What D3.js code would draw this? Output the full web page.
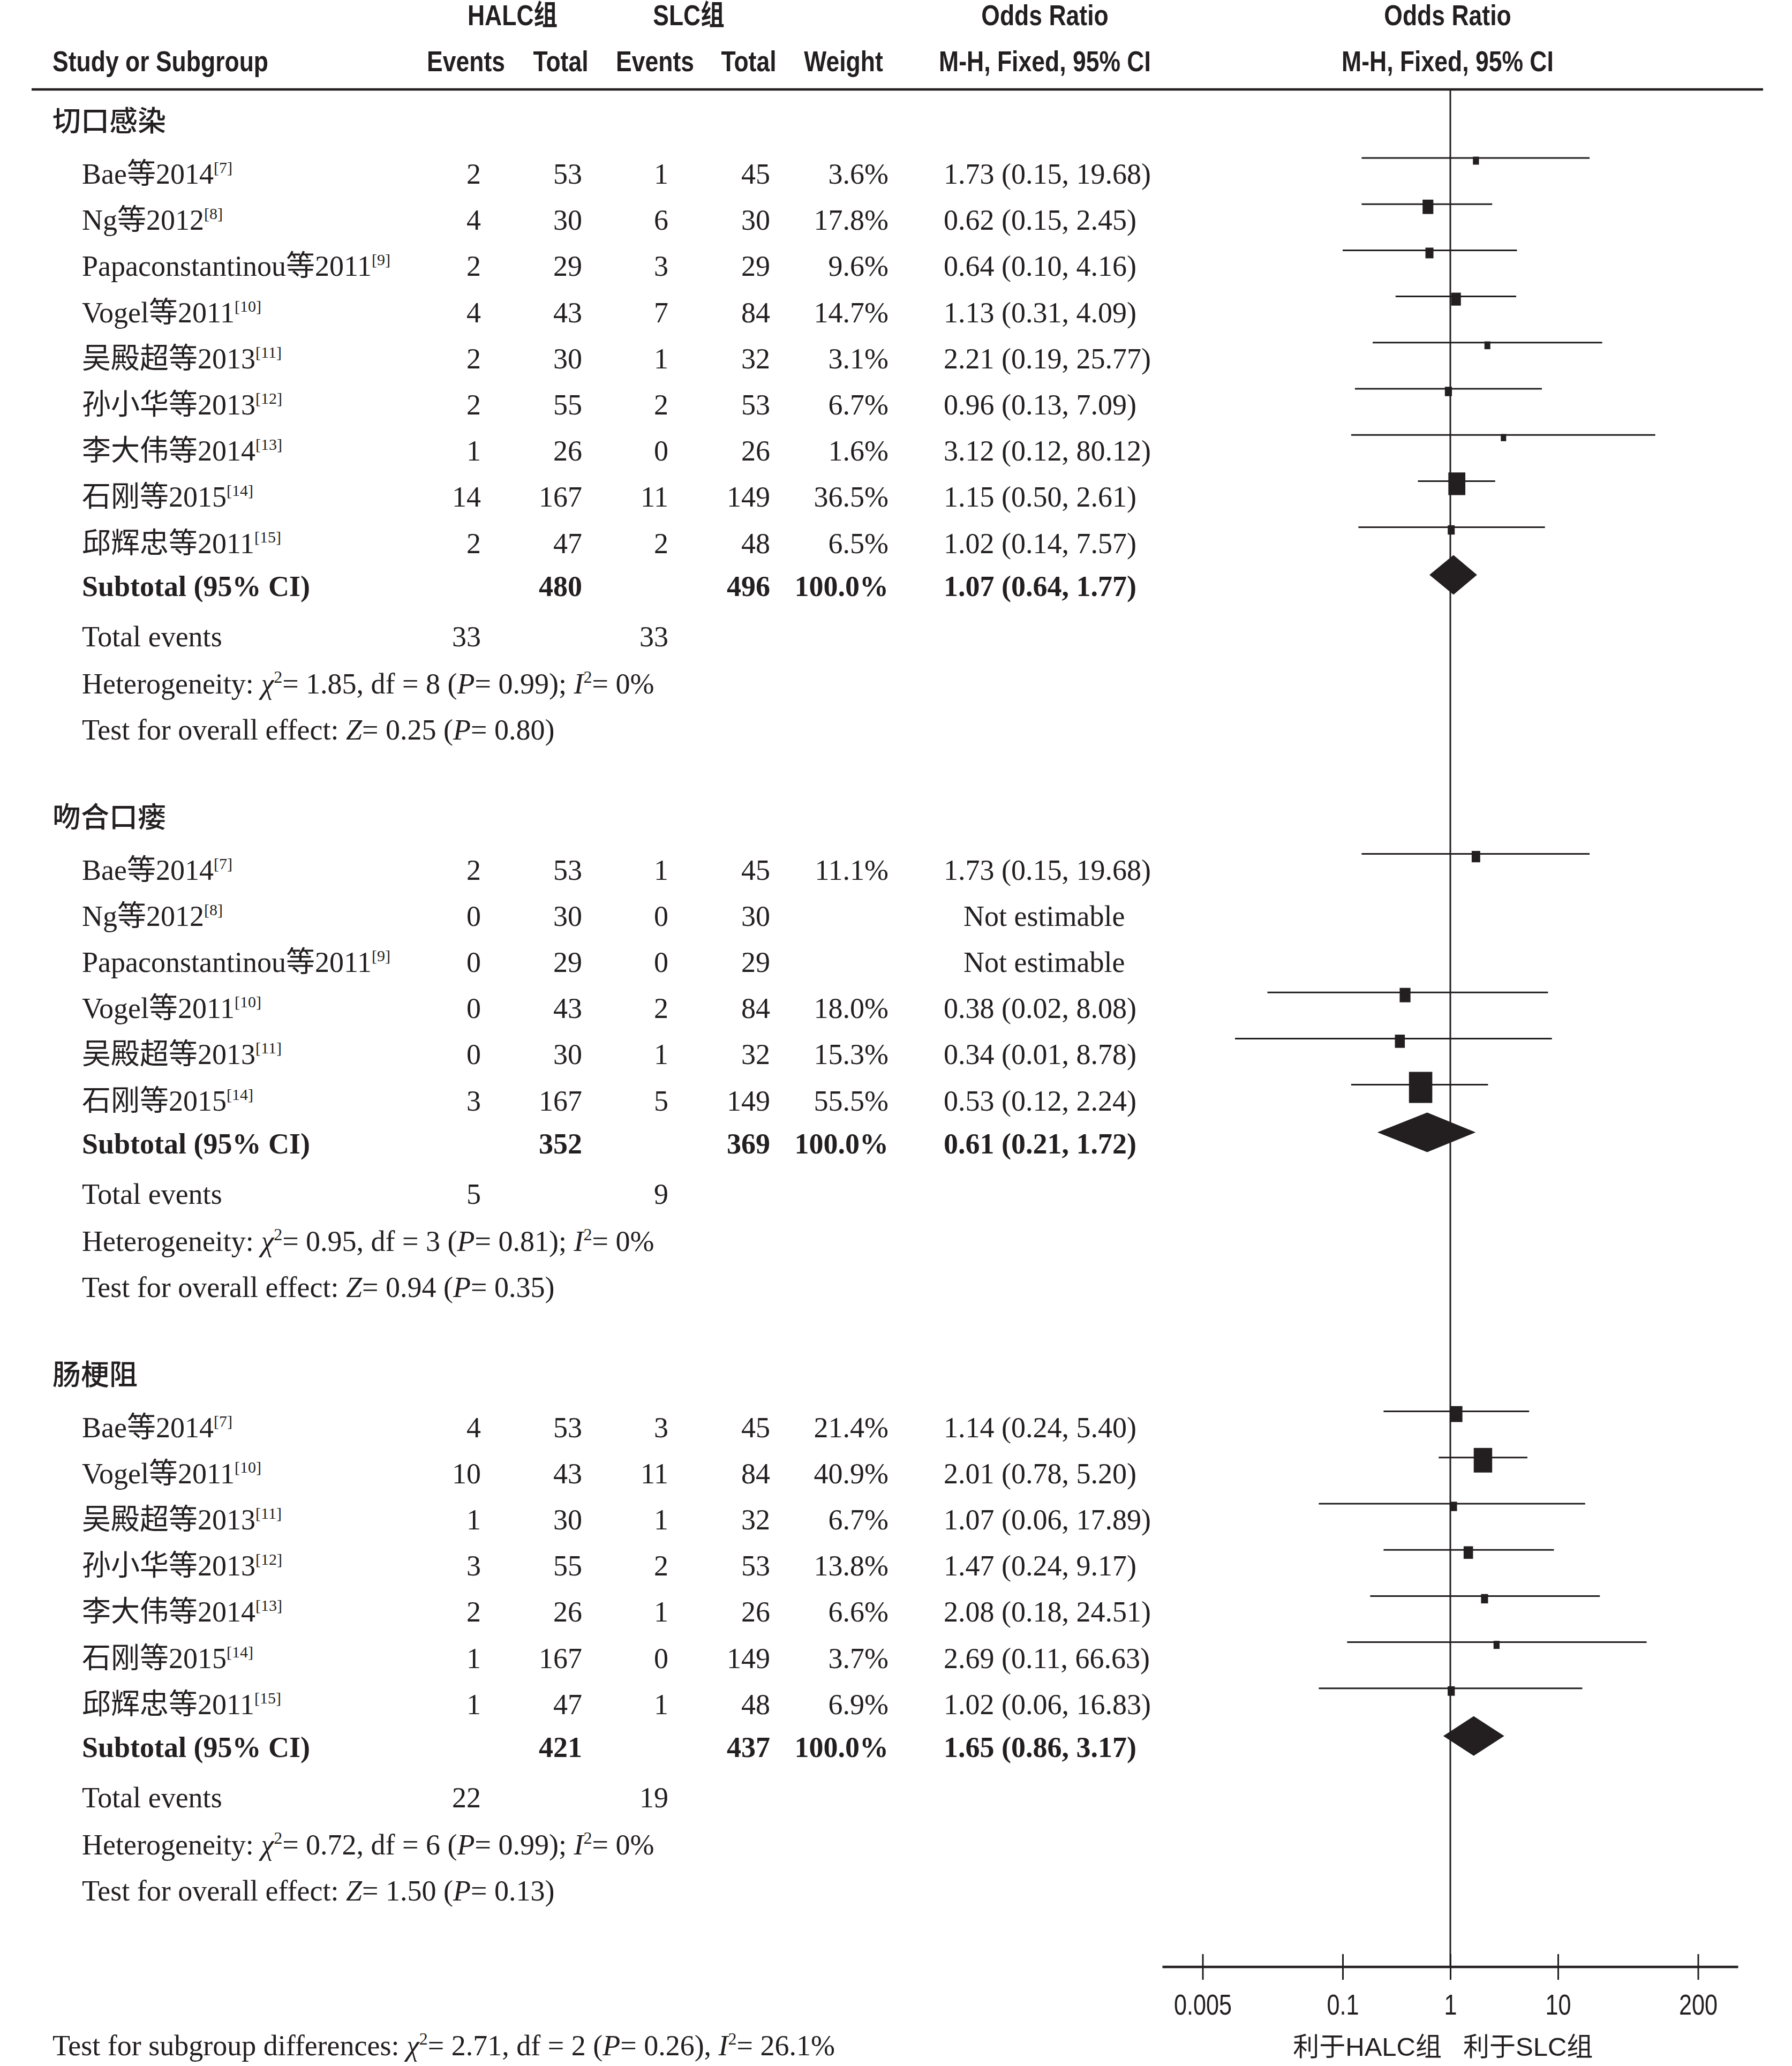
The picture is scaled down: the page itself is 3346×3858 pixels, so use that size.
<!DOCTYPE html>
<html>
<head>
<meta charset="utf-8">
<script src="https://cdn.jsdelivr.net/npm/d3@7"></script>
<style>
  html, body { margin: 0; padding: 0; background: #fff; }
  svg { display: block; }
  text { white-space: pre; }
</style>
</head>
<body>
<div id="chart"></div>
<script>
// ---- data ----
const groupNames = ["切口感染", "吻合口瘘", "肠梗阻"];

const studies1 = ["Bae等2014", "Ng等2012", "Papaconstantinou等2011", "Vogel等2011", "吴殿超等2013", "孙小华等2013", "李大伟等2014", "石刚等2015", "邱辉忠等2011"];
const refs1 = [7, 8, 9, 10, 11, 12, 13, 14, 15];
const halcEvents1 = [2, 4, 2, 4, 2, 2, 1, 14, 2];
const halcTotal1 = [53, 30, 29, 43, 30, 55, 26, 167, 47];
const slcEvents1 = [1, 6, 3, 7, 1, 2, 0, 11, 2];
const slcTotal1 = [45, 30, 29, 84, 32, 53, 26, 149, 48];
const weight1 = [3.6, 17.8, 9.6, 14.7, 3.1, 6.7, 1.6, 36.5, 6.5];
const or1 = [1.73, 0.62, 0.64, 1.13, 2.21, 0.96, 3.12, 1.15, 1.02];
const lo1 = [0.15, 0.15, 0.10, 0.31, 0.19, 0.13, 0.12, 0.50, 0.14];
const hi1 = [19.68, 2.45, 4.16, 4.09, 25.77, 7.09, 80.12, 2.61, 7.57];

const studies2 = ["Bae等2014", "Ng等2012", "Papaconstantinou等2011", "Vogel等2011", "吴殿超等2013", "石刚等2015"];
const refs2 = [7, 8, 9, 10, 11, 14];
const halcEvents2 = [2, 0, 0, 0, 0, 3];
const halcTotal2 = [53, 30, 29, 43, 30, 167];
const slcEvents2 = [1, 0, 0, 2, 1, 5];
const slcTotal2 = [45, 30, 29, 84, 32, 149];
const weight2 = [11.1, null, null, 18.0, 15.3, 55.5];
const or2 = [1.73, null, null, 0.38, 0.34, 0.53];
const lo2 = [0.15, null, null, 0.02, 0.01, 0.12];
const hi2 = [19.68, null, null, 8.08, 8.78, 2.24];

const studies3 = ["Bae等2014", "Vogel等2011", "吴殿超等2013", "孙小华等2013", "李大伟等2014", "石刚等2015", "邱辉忠等2011"];
const refs3 = [7, 10, 11, 12, 13, 14, 15];
const halcEvents3 = [4, 10, 1, 3, 2, 1, 1];
const halcTotal3 = [53, 43, 30, 55, 26, 167, 47];
const slcEvents3 = [3, 11, 1, 2, 1, 0, 1];
const slcTotal3 = [45, 84, 32, 53, 26, 149, 48];
const weight3 = [21.4, 40.9, 6.7, 13.8, 6.6, 3.7, 6.9];
const or3 = [1.14, 2.01, 1.07, 1.47, 2.08, 2.69, 1.02];
const lo3 = [0.24, 0.78, 0.06, 0.24, 0.18, 0.11, 0.06];
const hi3 = [5.40, 5.20, 17.89, 9.17, 24.51, 66.63, 16.83];

const subHalcTotal = [480, 352, 421];
const subSlcTotal = [496, 369, 437];
const subOr = [1.07, 0.61, 1.65];
const subLo = [0.64, 0.21, 0.86];
const subHi = [1.77, 1.72, 3.17];
const totalEventsHalc = [33, 5, 22];
const totalEventsSlc = [33, 9, 19];
const hetChi = [1.85, 0.95, 0.72];
const hetDf = [8, 3, 6];
const hetP = [0.99, 0.81, 0.99];
const hetI2 = ["0%", "0%", "0%"];
const zValue = [0.25, 0.94, 1.50];
const zP = [0.80, 0.35, 0.13];

const tickValues = [0.005, 0.1, 1, 10, 200];
const tickLabels = ["0.005", "0.1", "1", "10", "200"];

// ---- setup ----
const width = 3346, height = 3858;
const ink = "#231f20";
const serif = "'Liberation Serif', 'Noto Sans CJK SC', serif";
const sans = "'Liberation Sans', Arial, 'Noto Sans CJK SC', sans-serif";
const cjk = "'Noto Sans CJK SC', sans-serif";
const narrow = 0.84; // header font is a condensed sans

const groups = [
    { studies: studies1, refs: refs1, he: halcEvents1, ht: halcTotal1, se: slcEvents1, st: slcTotal1, w: weight1, or: or1, lo: lo1, hi: hi1 },
    { studies: studies2, refs: refs2, he: halcEvents2, ht: halcTotal2, se: slcEvents2, st: slcTotal2, w: weight2, or: or2, lo: lo2, hi: hi2 },
    { studies: studies3, refs: refs3, he: halcEvents3, ht: halcTotal3, se: slcEvents3, st: slcTotal3, w: weight3, or: or3, lo: lo3, hi: hi3 }
];

const svg = d3.select("#chart").append("svg")
    .attr("width", width)
    .attr("height", height)
    .style("background", "#fff");

const x = d3.scaleLog().domain(d3.extent(tickValues)).range([2245.5, 3170.5]);
const boxH = d3.scaleLinear().domain([0, 100]).range([12, 95]);
const f2 = d3.format(".2f");
const f1 = d3.format(".1f");

const col = { group: 98, name: 153, halcE: 898, halcT: 1087, slcE: 1248, slcT: 1438, weight: 1659, ci: 1762, ne: 1799 };

// condensed sans label (headers)
function header(xp, yp, str, anchor) {
    svg.append("text")
        .attr("transform", `translate(${xp},${yp}) scale(${narrow},1)`)
        .attr("text-anchor", anchor)
        .attr("font-family", sans)
        .attr("font-weight", "bold")
        .attr("font-size", 53)
        .attr("fill", ink)
        .text(str);
}

function plain(xp, yp, str, anchor, bold) {
    return svg.append("text")
        .attr("x", xp).attr("y", yp)
        .attr("text-anchor", anchor || "start")
        .attr("font-family", serif)
        .attr("font-size", 54)
        .attr("font-weight", bold ? "bold" : "normal")
        .attr("fill", ink)
        .text(str);
}

// text with italic / superscript pieces
function rich(xp, yp, parts) {
    const t = svg.append("text")
        .attr("x", xp).attr("y", yp)
        .attr("font-family", serif)
        .attr("font-size", 54)
        .attr("fill", ink);
    let shift = 0;
    parts.forEach(p => {
        const s = t.append("tspan").text(p.t);
        const target = p.sup ? -20 : 0;
        if (target !== shift) { s.attr("dy", target - shift); shift = target; }
        if (p.sup) s.attr("font-size", p.size || 32);
        if (p.i) s.attr("font-style", "italic");
    });
    return t;
}

// ---- header ----
header(957, 47, "HALC组", "middle");
header(1286, 47, "SLC组", "middle");
header(1951, 47, "Odds Ratio", "middle");
header(2703, 47, "Odds Ratio", "middle");
header(98, 133, "Study or Subgroup", "start");
header(870, 133, "Events", "middle");
header(1047, 133, "Total", "middle");
header(1223, 133, "Events", "middle");
header(1398, 133, "Total", "middle");
header(1575, 133, "Weight", "middle");
header(1951, 133, "M-H, Fixed, 95% CI", "middle");
header(2703, 133, "M-H, Fixed, 95% CI", "middle");

svg.append("line")
    .attr("x1", 59).attr("x2", 3292)
    .attr("y1", 167).attr("y2", 167)
    .attr("stroke", ink).attr("stroke-width", 4.5);

// ---- groups ----
const rowStep = 86.2;
const base = 18; // text centre -> baseline
let cy = 228;
const marks = svg.append("g");

groups.forEach((g, gi) => {
    svg.append("text")
        .attr("x", col.group).attr("y", cy + 17)
        .attr("font-family", cjk)
        .attr("font-weight", 500)
        .attr("font-size", 53)
        .attr("fill", ink)
        .text(groupNames[gi]);

    const firstRow = cy + 97;
    g.studies.forEach((name, i) => {
        const rc = firstRow + i * rowStep;
        const by = rc + base;
        rich(col.name, by, [{ t: name }, { t: `[${g.refs[i]}]`, sup: true, size: 30 }]);
        plain(col.halcE, by, g.he[i], "end");
        plain(col.halcT, by, g.ht[i], "end");
        plain(col.slcE, by, g.se[i], "end");
        plain(col.slcT, by, g.st[i], "end");
        if (g.w[i] != null) {
            plain(col.weight, by, f1(g.w[i]) + "%", "end");
            plain(col.ci, by, `${f2(g.or[i])} (${f2(g.lo[i])}, ${f2(g.hi[i])})`, "start");

            const ly = rc - 30;
            marks.append("line")
                .attr("x1", x(g.lo[i])).attr("x2", x(g.hi[i]))
                .attr("y1", ly).attr("y2", ly)
                .attr("stroke", ink).attr("stroke-width", 3);
            const h = boxH(g.w[i]), w = h * 0.75;
            marks.append("rect")
                .attr("x", x(g.or[i]) - w / 2).attr("y", ly + 5 - h / 2)
                .attr("width", w).attr("height", h)
                .attr("fill", ink);
        } else {
            plain(col.ne, by, "Not estimable", "start");
        }
    });

    const sub = firstRow + (g.studies.length - 1) * rowStep + 80;
    plain(col.name, sub + base, "Subtotal (95% CI)", "start", true);
    plain(col.halcT, sub + base, subHalcTotal[gi], "end", true);
    plain(col.slcT, sub + base, subSlcTotal[gi], "end", true);
    plain(col.weight, sub + base, "100.0%", "end", true);
    plain(col.ci, sub + base, `${f2(subOr[gi])} (${f2(subLo[gi])}, ${f2(subHi[gi])})`, "start", true);

    const dy = sub - 21, dh = 37;
    marks.append("path")
        .attr("d", `M${x(subLo[gi])},${dy}L${x(subOr[gi])},${dy - dh}L${x(subHi[gi])},${dy}L${x(subOr[gi])},${dy + dh}Z`)
        .attr("fill", ink);

    const te = sub + 94;
    plain(col.name, te + base, "Total events", "start");
    plain(col.halcE, te + base, totalEventsHalc[gi], "end");
    plain(col.slcE, te + base, totalEventsSlc[gi], "end");

    const het = te + 88;
    rich(col.name, het + base, [
        { t: "Heterogeneity: " }, { t: "χ", i: true }, { t: "2", sup: true },
        { t: `= ${f2(hetChi[gi])}, df = ${hetDf[gi]} (` }, { t: "P", i: true },
        { t: `= ${f2(hetP[gi])}); ` }, { t: "I", i: true }, { t: "2", sup: true },
        { t: `= ${hetI2[gi]}` }
    ]);

    const test = het + 86;
    rich(col.name, test + base, [
        { t: "Test for overall effect: " }, { t: "Z", i: true },
        { t: `= ${f2(zValue[gi])} (` }, { t: "P", i: true }, { t: `= ${f2(zP[gi])})` }
    ]);

    cy = test + 165;
});

// ---- axis ----
const axisY = 3673;
svg.insert("line", ":first-child")
    .attr("x1", x(1)).attr("x2", x(1))
    .attr("y1", 169).attr("y2", axisY)
    .attr("stroke", ink).attr("stroke-width", 3);

svg.append("line")
    .attr("x1", x.range()[0] - 75).attr("x2", x.range()[1] + 75)
    .attr("y1", axisY).attr("y2", axisY)
    .attr("stroke", ink).attr("stroke-width", 4.5);

const axG = svg.append("g")
    .attr("transform", `translate(0,${axisY})`)
    .call(d3.axisBottom(x).tickValues(tickValues).tickFormat((d, i) => tickLabels[i]));
axG.select(".domain").remove();
axG.selectAll(".tick line")
    .attr("y1", -24).attr("y2", 24)
    .attr("stroke", ink).attr("stroke-width", 3);
axG.selectAll(".tick text")
    .attr("y", 89).attr("dy", null)
    .attr("transform", "scale(0.8,1)")
    .attr("font-family", sans)
    .attr("font-size", 54)
    .attr("fill", ink);

svg.append("text")
    .attr("x", 2692).attr("y", 3839)
    .attr("text-anchor", "end")
    .attr("font-family", sans).attr("font-size", 49).attr("fill", ink)
    .text("利于HALC组");
svg.append("text")
    .attr("x", 2732).attr("y", 3839)
    .attr("font-family", sans).attr("font-size", 49).attr("fill", ink)
    .text("利于SLC组");

rich(98, 3838, [
    { t: "Test for subgroup differences: " }, { t: "χ", i: true }, { t: "2", sup: true },
    { t: "= 2.71, df = 2 (" }, { t: "P", i: true }, { t: "= 0.26), " },
    { t: "I", i: true }, { t: "2", sup: true }, { t: "= 26.1%" }
]);
</script>
</body>
</html>
